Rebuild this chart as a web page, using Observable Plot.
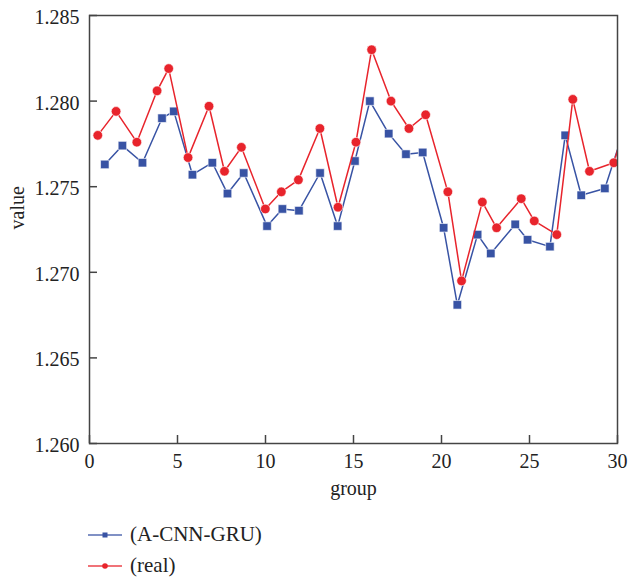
<!DOCTYPE html>
<html><head><meta charset="utf-8">
<script src="https://cdn.jsdelivr.net/npm/d3@7"></script>
<script src="https://cdn.jsdelivr.net/npm/@observablehq/plot@0.6"></script>
<style>
body{margin:0;background:#fff;font-family:"Liberation Serif","DejaVu Serif",serif;}
#legend{margin-left:88px;margin-top:14px;font-size:21px;color:#222}
.row{display:flex;align-items:center;height:31px}
.row svg{margin-right:8px}
</style></head><body><div id="chart"></div><div id="legend"></div>
<script>
const xTicks = [0, 5, 10, 15, 20, 25, 30];
const yTicks = [1.260, 1.265, 1.270, 1.275, 1.280, 1.285];
const seriesNames = ["(A-CNN-GRU)", "(real)"];
const seriesColors = ["#3853a4", "#e8242c"];
const xLabel = "group";
const yLabel = "value";

const blueX = [0.87,1.87,3.01,4.12,4.79,5.85,6.98,7.84,8.76,10.09,10.96,11.9,13.1,14.1,15.08,15.93,17.0,17.98,18.93,20.12,20.9,22.05,22.8,24.19,24.89,26.16,27.03,27.94,29.28,30.55];
const blueY = [1.2763,1.2774,1.2764,1.2790,1.2794,1.2757,1.2764,1.2746,1.2758,1.2727,1.2737,1.2736,1.2758,1.2727,1.2765,1.2800,1.2781,1.2769,1.2770,1.2726,1.2681,1.2722,1.2711,1.2728,1.2719,1.2715,1.2780,1.2745,1.2749,1.2789];
const redX = [0.47,1.51,2.69,3.84,4.5,5.6,6.79,7.67,8.63,9.99,10.9,11.87,13.09,14.12,15.14,16.03,17.13,18.15,19.1,20.36,21.14,22.32,23.13,24.53,25.27,26.55,27.46,28.41,29.79,30.55];
const redY = [1.2780,1.2794,1.2776,1.2806,1.2819,1.2767,1.2797,1.2759,1.2773,1.2737,1.2747,1.2754,1.2784,1.2738,1.2776,1.2830,1.2800,1.2784,1.2792,1.2747,1.2695,1.2741,1.2726,1.2743,1.2730,1.2722,1.2801,1.2759,1.2764,1.2790];

const blue = blueX.map((x, i) => ({x, y: blueY[i]}));
const red = redX.map((x, i) => ({x, y: redY[i]}));

const W = 629, H = 505, mT = 15, mB = 62, mL = 89, mR = 12;
const plotW = W - mL - mR, plotH = H - mT - mB;
const tickLen = 8;

const chart = Plot.plot({
  width: W, height: H, marginTop: mT, marginBottom: mB, marginLeft: mL, marginRight: mR,
  style: {fontFamily: "Liberation Serif, DejaVu Serif, serif", fontSize: "20px", color: "#222", background: "#fff"},
  x: {domain: [0, 30]},
  y: {domain: [1.260, 1.285]},
  marks: [
    Plot.axisX({ticks: xTicks, tickSize: 0, tickPadding: 10, tickFormat: d => String(d), label: null}),
    Plot.axisY({ticks: yTicks, tickSize: 0, tickPadding: 10, tickFormat: d3.format(".3f"), label: null, dy: 2}),
    Plot.tickX(xTicks, {x: d => d, insetTop: plotH - tickLen, stroke: "#444", strokeWidth: 1.5}),
    Plot.tickY(yTicks, {y: d => d, insetRight: plotW - tickLen, stroke: "#444", strokeWidth: 1.5}),
    Plot.text([xLabel], {text: d => d, frameAnchor: "bottom", dy: 45, lineAnchor: "middle", fontSize: 20}),
    Plot.text([yLabel], {text: d => d, frameAnchor: "left", dx: -72, rotate: -90, lineAnchor: "middle", fontSize: 20}),
    Plot.line(blue, {x: "x", y: "y", stroke: seriesColors[0], strokeWidth: 1.5, clip: true}),
    Plot.dot(blue, {x: "x", y: "y", symbol: "square", r: 4.8, fill: seriesColors[0], stroke: "#fff", strokeWidth: 0.6, clip: true}),
    Plot.line(red, {x: "x", y: "y", stroke: seriesColors[1], strokeWidth: 1.5, clip: true}),
    Plot.dot(red, {x: "x", y: "y", symbol: "circle", r: 4.8, fill: seriesColors[1], stroke: "#fff", strokeWidth: 0.6, clip: true}),
    Plot.frame({stroke: "#444", strokeWidth: 1.5})
  ]
});
document.getElementById("chart").appendChild(chart);

const legend = document.getElementById("legend");
seriesNames.forEach((name, i) => {
  const row = document.createElement("div");
  row.className = "row";
  const marker = i === 0
    ? `<rect x="14.5" y="2.5" width="5" height="5" fill="${seriesColors[i]}"/>`
    : `<circle cx="17" cy="5" r="2.8" fill="${seriesColors[i]}"/>`;
  row.innerHTML = `<svg width="34" height="10"><line x1="0" x2="34" y1="5" y2="5" stroke="${seriesColors[i]}" stroke-width="1.5" opacity="0.85"/>${marker}</svg><span>${name}</span>`;
  legend.appendChild(row);
});
</script>
</body></html>
